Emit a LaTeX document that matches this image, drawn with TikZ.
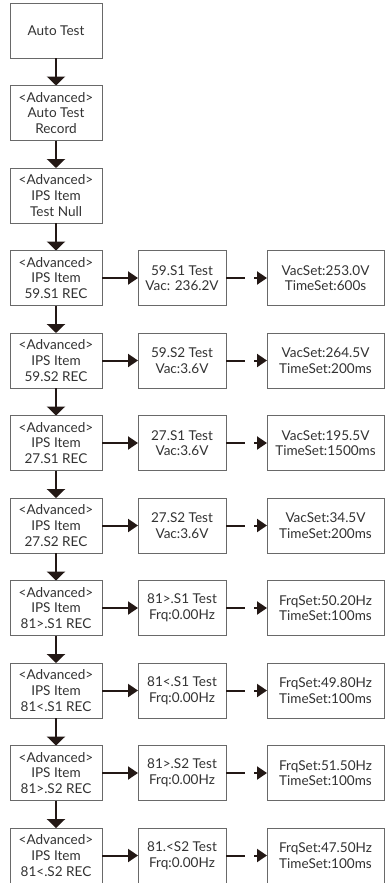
\documentclass[tikz,border=0pt]{standalone}
\usepackage{fontspec}
\setmainfont{Lato}
\usepackage{tikz}
\usetikzlibrary{arrows.meta, positioning}
\definecolor{mydark}{RGB}{35,24,21}
\definecolor{boxgray}{RGB}{105,105,105}
\definecolor{txtgray}{RGB}{50,50,50}
\tikzset{
  menubox/.style={rectangle, draw=boxgray, line width=0.9bp,
    minimum width=92bp, minimum height=55bp, inner sep=0pt, outer sep=0pt,
    align=center, text=txtgray, font=\fontsize{13.6}{15.7}\selectfont},
  testbox/.style={menubox, minimum width=88bp},
  setbox/.style={menubox, minimum width=117bp},
  arrow/.style={-{Triangle[length=9bp, width=18bp]}, line width=2.3bp, color=mydark},
  harrow/.style={-{Triangle[length=10bp, width=13bp]}, line width=2bp, color=mydark},
  dasharrow/.style={harrow, dash pattern=on 19bp off 9bp}
}

\begin{document}
\begin{tikzpicture}[x=1bp, y=-1bp, node distance=27.5bp]
  \useasboundingbox (0,0) rectangle (385,883);

  % Menu column
  \node[menubox] (item1) at (56,30.5) {Auto Test};
  \node[menubox, below=of item1] (item2) {<Advanced>\\Auto Test\\Record};
  \node[menubox, below=of item2] (item3) {<Advanced>\\IPS Item\\Test Null};
  \node[menubox, below=of item3] (item4) {<Advanced>\\IPS Item\\59.S1 REC};
  \node[menubox, below=of item4] (item5) {<Advanced>\\IPS Item\\59.S2 REC};
  \node[menubox, below=of item5] (item6) {<Advanced>\\IPS Item\\27.S1 REC};
  \node[menubox, below=of item6] (item7) {<Advanced>\\IPS Item\\27.S2 REC};
  \node[menubox, below=of item7] (item8) {<Advanced>\\IPS Item\\81>.S1 REC};
  \node[menubox, below=of item8] (item9) {<Advanced>\\IPS Item\\81<.S1 REC};
  \node[menubox, below=of item9] (item10) {<Advanced>\\IPS Item\\81>.S2 REC};
  \node[menubox, below=of item10] (item11) {<Advanced>\\IPS Item\\81<.S2 REC};

  % Test readings
  \node[testbox, right=36bp of item4] (test4) {59.S1 Test\\Vac: 236.2V};
  \node[testbox, right=36bp of item5] (test5) {59.S2 Test\\Vac:3.6V};
  \node[testbox, right=36bp of item6] (test6) {27.S1 Test\\Vac:3.6V};
  \node[testbox, right=36bp of item7] (test7) {27.S2 Test\\Vac:3.6V};
  \node[testbox, right=36bp of item8] (test8) {81>.S1 Test\\Frq:0.00Hz};
  \node[testbox, right=36bp of item9] (test9) {81<.S1 Test\\Frq:0.00Hz};
  \node[testbox, right=36bp of item10] (test10) {81>.S2 Test\\Frq:0.00Hz};
  \node[testbox, right=36bp of item11] (test11) {81.<S2 Test\\Frq:0.00Hz};

  % Set points
  \node[setbox, right=41bp of test4] (set4) {VacSet:253.0V\\TimeSet:600s};
  \node[setbox, right=41bp of test5] (set5) {VacSet:264.5V\\TimeSet:200ms};
  \node[setbox, right=41bp of test6] (set6) {VacSet:195.5V\\TimeSet:1500ms};
  \node[setbox, right=41bp of test7] (set7) {VacSet:34.5V\\TimeSet:200ms};
  \node[setbox, right=41bp of test8] (set8) {FrqSet:50.20Hz\\TimeSet:100ms};
  \node[setbox, right=41bp of test9] (set9) {FrqSet:49.80Hz\\TimeSet:100ms};
  \node[setbox, right=41bp of test10] (set10) {FrqSet:51.50Hz\\TimeSet:100ms};
  \node[setbox, right=41bp of test11] (set11) {FrqSet:47.50Hz\\TimeSet:100ms};

  % Connectors
  \foreach \i [evaluate=\i as \j using int(\i+1)] in {1,...,10}
    \draw[arrow] (item\i) -- (item\j);
  \foreach \i in {4,...,11} {
    \draw[harrow] (item\i) -- (test\i);
    \draw[dasharrow] (test\i) -- (set\i);
  }
\end{tikzpicture}
\end{document}
